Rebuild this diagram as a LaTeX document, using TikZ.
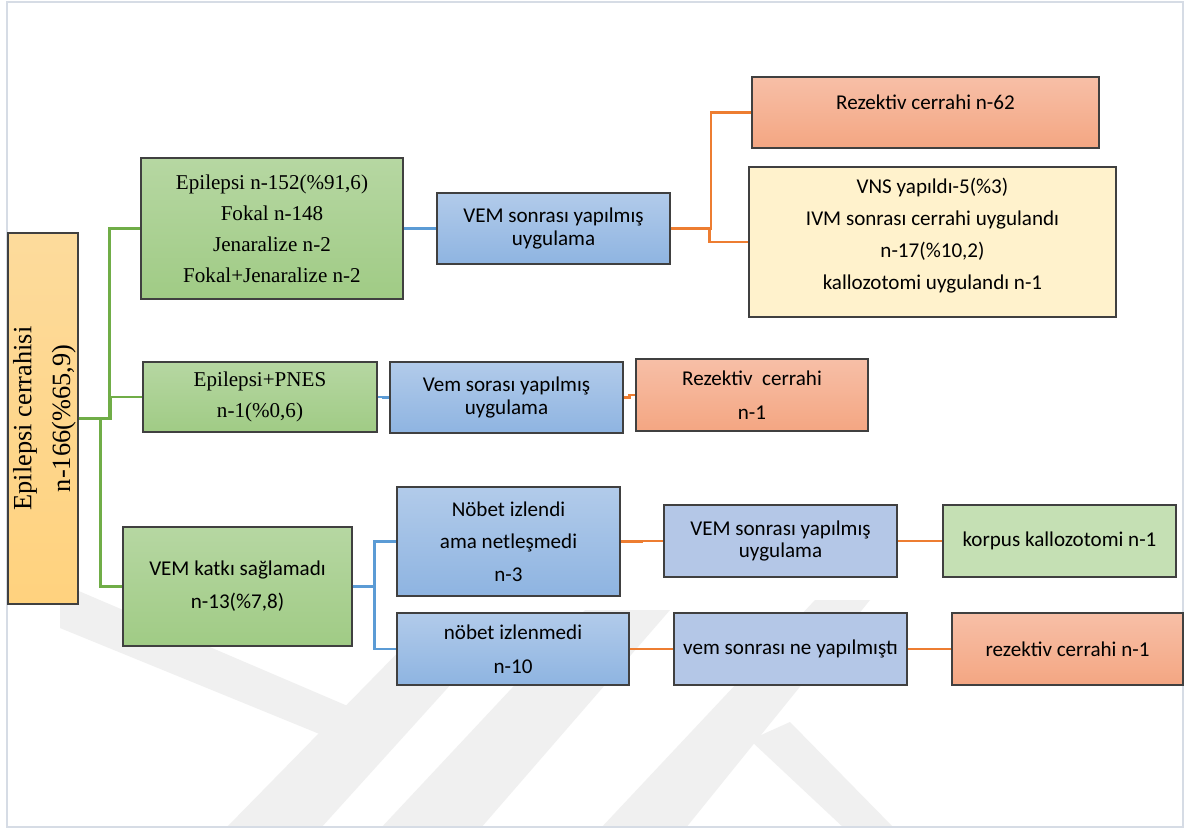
\documentclass[tikz,border=0pt]{standalone}
\usepackage{fontspec}
\setmainfont{Liberation Serif}
\newfontfamily\calibrifont{Carlito}
\usetikzlibrary{calc}

\definecolor{frameC}{HTML}{D6DCE5}
\definecolor{edgeC}{HTML}{404040}
\definecolor{lnGreen}{HTML}{70AD47}
\definecolor{lnBlue}{HTML}{5B9BD5}
\definecolor{lnOrange}{HTML}{ED7D31}
\definecolor{grnTop}{HTML}{B6D7A2}
\definecolor{grnBot}{HTML}{A0CB85}
\definecolor{bluTop}{HTML}{B2CBEA}
\definecolor{bluBot}{HTML}{8EB4E1}
\definecolor{bluFlat}{HTML}{B4C7E7}
\definecolor{salTop}{HTML}{F7BFA7}
\definecolor{salBot}{HTML}{F4A682}
\definecolor{yelFill}{HTML}{FFF2CC}
\definecolor{korFill}{HTML}{C5E0B4}
\definecolor{rootTop}{HTML}{FDDB9C}
\definecolor{rootBot}{HTML}{FFD27E}
\definecolor{markC}{HTML}{F0F0F0}

% box given by its corners in pixel units: name, style, x1, y1, x2, y2, text
\newcommand\placebox[7]{%
  \node[box, #2, minimum width={(#5-#3)*0.02cm}, minimum height={(#6-#4)*0.02cm}]
    (#1) at ({(#3+#5)/2},{(#4+#6)/2}) {#7};}

\tikzset{
  box/.style={draw=edgeC, line width=0.6pt, inner sep=0pt, align=center,
    font=\calibrifont\fontsize{12}{18.7}\selectfont},
  serif/.style={font=\rmfamily\fontsize{12}{17.6}\selectfont},
  tight/.style={font=\calibrifont\fontsize{12}{13.6}\selectfont},
  greenbox/.style={top color=grnTop, bottom color=grnBot},
  bluebox/.style={top color=bluTop, bottom color=bluBot},
  paleblue/.style={fill=bluFlat},
  salmonbox/.style={top color=salTop, bottom color=salBot},
  yellowbox/.style={fill=yelFill},
  korbox/.style={fill=korFill},
  rootbox/.style={top color=rootTop, bottom color=rootBot,
    font=\rmfamily\fontsize{15}{22}\selectfont},
  gline/.style={draw=lnGreen, line width=1.5pt},
  bline/.style={draw=lnBlue, line width=1.5pt},
  oline/.style={draw=lnOrange, line width=1.5pt},
  elbow/.style={to path={-| ($(\tikztostart)!.5!(\tikztotarget)$) |- (\tikztotarget)}},
  stripe/.style={fill=markC}
}

\begin{document}
\begin{tikzpicture}[x=0.02cm, y=-0.02cm]
\useasboundingbox (0,0) rectangle (1187,829);
\fill[white] (0,0) rectangle (1187,829);

% faint background emblem made of diagonal stripes
\begin{scope}
  \clip (8,3) rectangle (1182,826);
  \fill[stripe] (60,583) -- (350,707) -- (322,735) -- (60,628) -- cycle;
  \fill[stripe] (225,829) -- (320,829) -- (500,630) -- (420,630) -- cycle;
  \fill[stripe] (380,829) -- (480,829) -- (670,610) -- (585,610) -- cycle;
  \fill[stripe] (600,829) -- (685,829) -- (870,600) -- (815,600) -- cycle;
  \fill[stripe] (750,740) -- (790,722) -- (895,829) -- (845,829) -- cycle;
\end{scope}
\draw[frameC, line width=1.6pt] (7,2) rectangle (1183,827);

% root
\placebox{root}{rootbox}{8}{233}{78}{604}{\makebox[0pt]{\rotatebox{90}{%
  \begin{tabular}{@{}c@{}}Epilepsi cerrahisi\\ n-166(\%65,9)\end{tabular}}}}

% first level
\placebox{epi}{greenbox, serif}{141}{158}{403}{299}{Epilepsi n-152(\%91,6)\\ Fokal n-148\\ Jenaralize n-2\\ Fokal+Jenaralize n-2}
\placebox{pnes}{greenbox, serif}{143}{362}{377}{432}{Epilepsi+PNES\\ n-1(\%0,6)}
\placebox{katki}{greenbox}{123}{527}{352}{646}{VEM katkı sağlamadı\\ n-13(\%7,8)}

% second level
\placebox{vemA}{bluebox, tight}{437}{193}{670}{264}{VEM sonrası yapılmış\\ uygulama}
\placebox{vemB}{bluebox, tight}{390}{362}{623}{433}{Vem sorası yapılmış\\ uygulama}
\placebox{nobA}{bluebox, font=\calibrifont\fontsize{12}{18.5}\selectfont}{397}{487}{620}{596}{Nöbet izlendi\\ ama netleşmedi\\ n-3}
\placebox{nobB}{bluebox, font=\calibrifont\fontsize{12}{19.2}\selectfont}{397}{613}{629}{685}{nöbet izlenmedi\\ n-10}

% third level
\placebox{rezA}{salmonbox, text depth=11.4pt}{752}{77}{1099}{148}{Rezektiv cerrahi n-62}
\placebox{vns}{yellowbox, font=\calibrifont\fontsize{12}{18.3}\selectfont, text depth=9.3pt}{749}{167}{1116}{317}{VNS yapıldı-5(\%3)\\ IVM sonrası cerrahi uygulandı\\ n-17(\%10,2)\\ kallozotomi uygulandı n-1}
\placebox{rezB}{salmonbox, font=\calibrifont\fontsize{12}{19}\selectfont}{636}{359}{868}{431}{Rezektiv\ \ cerrahi\\ n-1}
\placebox{vemC}{paleblue, font=\calibrifont\fontsize{12}{13}\selectfont}{664}{505}{897}{577}{VEM sonrası yapılmış\\ uygulama}
\placebox{vemD}{paleblue}{674}{613}{907}{685}{vem sonrası ne yapılmıştı}

% outcomes
\placebox{korp}{korbox}{943}{505}{1176}{577}{korpus kallozotomi n-1}
\placebox{rezC}{salmonbox}{952}{613}{1183}{685}{rezektiv cerrahi n-1}

% connectors
\draw[gline] (root.east) to[elbow] (epi.west);
\draw[gline] (root.east) to[elbow] (pnes.west);
\draw[gline] (root.east) to[elbow] (katki.west);

\draw[bline] (epi.east) to[elbow] (vemA.west);
\draw[bline] (pnes.east) to[elbow] (vemB.west);
\draw[bline] (katki.east) to[elbow] (nobA.west);
\draw[bline] (katki.east) to[elbow] (nobB.west);

\draw[oline] (vemA.east) to[elbow] (rezA.west);
\draw[oline] (vemA.east) to[elbow] (vns.west);
\draw[oline] (vemB.east) to[elbow] (rezB.west);
\draw[oline] (nobA.east) to[elbow] (vemC.west);
\draw[oline] (vemC.east) to[elbow] (korp.west);
\draw[oline] (nobB.east) to[elbow] (vemD.west);
\draw[oline] (vemD.east) to[elbow] (rezC.west);
\end{tikzpicture}
\end{document}
